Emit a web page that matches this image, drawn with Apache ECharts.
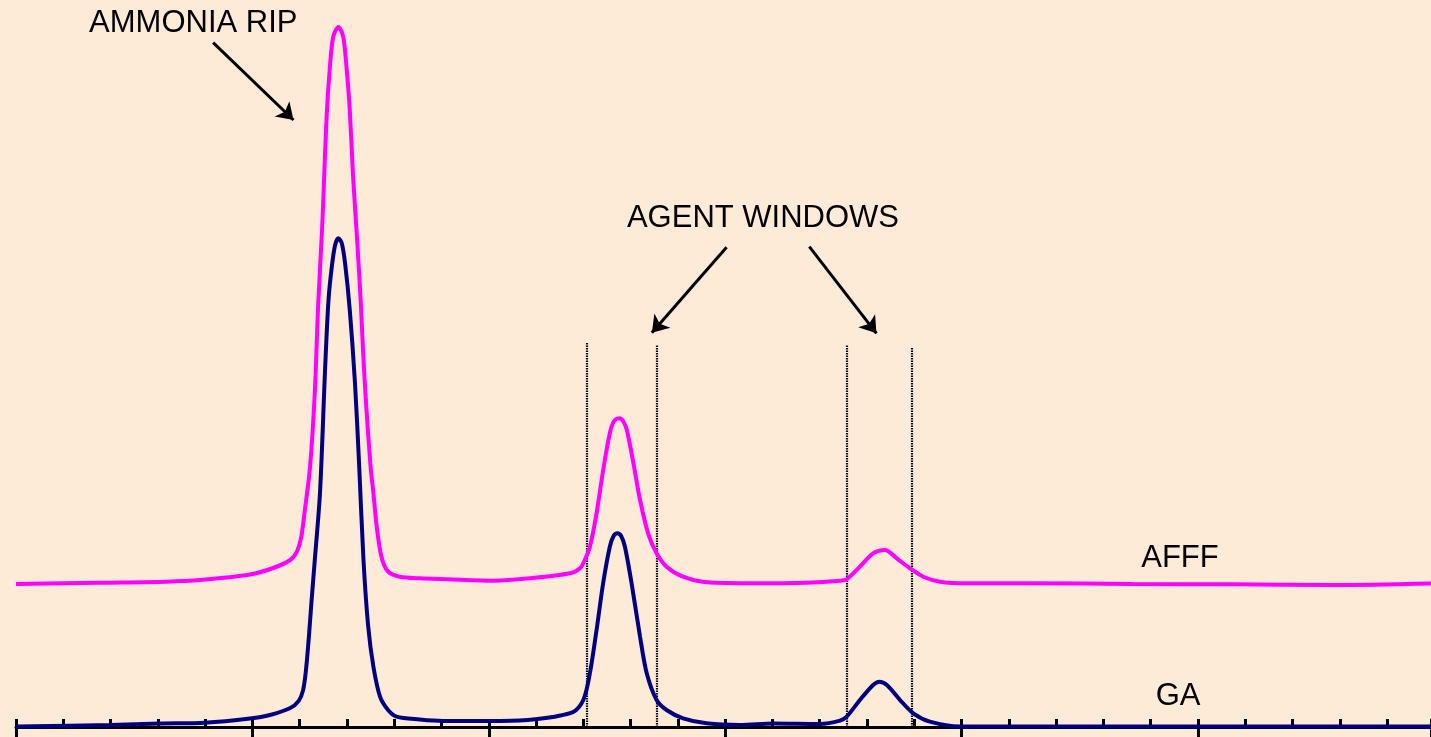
<!DOCTYPE html>
<html>
<head>
<meta charset="utf-8">
<script src="https://cdn.jsdelivr.net/npm/echarts@6/dist/echarts.min.js"></script>
<style>
html,body{margin:0;padding:0;background:#FDEBD8;}
#chart{width:1431px;height:737px;}
</style>
</head>
<body>
<div id="chart"></div>
<script>
// Drift time (axis units, one minor tick = 1) and intensity (0-100 scale)
var gaDrift = [0,1.99,3.05,4.00,4.95,5.37,5.80,5.98,6.07,6.13,6.19,6.25,6.32,6.43,6.54,6.61,6.68,6.75,6.82,6.89,6.96,7.06,7.17,7.26,7.35,7.45,7.56,7.70,7.87,8.05,8.54,9.03,10.24,10.98,11.78,12.00,12.14,12.28,12.42,12.56,12.64,12.72,12.80,12.88,13.02,13.20,13.34,13.55,13.76,14.11,14.61,15.31,16.02,17.00,17.43,17.57,17.85,18.13,18.26,18.42,18.70,18.98,19.33,19.97,22.93,29.93];
var gaIntensity = [0.07,0.28,0.48,0.59,1.17,1.65,2.61,3.60,5.00,7.60,12.00,17.20,22.97,32.19,49.56,58.73,63.32,66.30,67.22,66.57,63.82,57.36,47.32,35.80,22.97,13.80,8.29,4.17,2.34,1.42,1.03,0.83,0.83,1.06,2.06,3.71,7.43,13.34,19.81,24.80,26.27,26.64,26.27,24.80,19.81,12.42,7.43,3.71,2.34,1.20,0.51,0.28,0.48,0.41,0.87,1.42,3.71,5.78,6.23,5.78,3.71,1.88,0.73,0.07,0.07,0.07];

var afffDrift = [0,1.78,3.19,3.89,4.95,5.44,5.80,5.94,6.03,6.11,6.22,6.32,6.39,6.47,6.50,6.57,6.64,6.71,6.82,6.92,6.99,7.06,7.13,7.22,7.29,7.34,7.40,7.50,7.56,7.63,7.73,7.87,8.12,8.54,9.11,10.10,10.87,11.72,11.93,12.03,12.14,12.28,12.42,12.56,12.65,12.76,12.84,12.92,13.06,13.20,13.37,13.55,13.76,14.11,14.61,15.67,16.72,17.43,17.57,17.85,18.13,18.38,18.63,18.91,19.19,19.54,20.11,21.51,23.62,25.74,27.86,29.93];
var afffIntensity = [19.67,19.85,19.99,20.22,20.98,21.87,22.97,24.10,26.00,29.85,35.80,45.94,57.81,67.95,72.49,83.95,90.83,94.95,96.29,94.95,90.83,84.87,75.69,66.57,58.73,51.86,44.98,35.80,32.19,27.55,23.43,21.36,20.67,20.45,20.32,20.12,20.45,21.14,21.83,22.97,24.80,29.39,35.35,40.40,42.09,42.46,42.09,40.85,36.27,31.22,26.64,23.89,22.05,20.67,19.90,19.77,19.85,20.12,20.32,22.05,23.89,24.35,23.20,21.83,20.67,19.99,19.77,19.77,19.67,19.63,19.53,19.74];

// Agent window boundaries (drift) and their top heights
var windowEdges = [12.07, 13.56, 17.57, 18.94];
var windowTops = [52.86, 52.54, 52.54, 52.27];

// Annotation texts and anchor positions (data coords)
var labelTexts = ["AMMONIA RIP", "AGENT WINDOWS", "AFFF", "GA"];
var labelX = [3.75, 15.80, 24.62, 24.58];
var labelY = [96.77, 70.01, 23.18, 4.20];

// Arrows: start and end (data coords)
var arrowFromX = [4.17, 15.03, 16.78];
var arrowFromY = [94.13, 65.98, 66.07];
var arrowToX = [5.87, 13.45, 18.20];
var arrowToY = [83.49, 54.24, 54.15];

var axisMin = 0, axisMax = 29.93;

function zip(a, b){ return a.map(function(v,i){ return [v, b[i]]; }); }

var chart = echarts.init(document.getElementById('chart'), null, {renderer:'canvas'});

var windowLines = windowEdges.map(function(x,i){
  return [{coord:[x,0]},{coord:[x,windowTops[i]]}];
});
var arrowLines = arrowFromX.map(function(x,i){
  return [{coord:[x,arrowFromY[i]]},{coord:[arrowToX[i],arrowToY[i]]}];
});
var labelPoints = labelTexts.map(function(t,i){
  return {coord:[labelX[i],labelY[i]], value:t};
});

chart.setOption({
  backgroundColor:'#FDEBD8',
  animation:false,
  grid:{left:16, right:0, top:0, bottom:10, containLabel:false},
  xAxis:[{
    type:'value', min:axisMin, max:axisMax, interval:1, position:'bottom',
    axisLine:{show:true, lineStyle:{color:'#000', width:3}},
    axisTick:{show:true, inside:true, length:8, lineStyle:{color:'#000', width:3}},
    axisLabel:{show:false}, splitLine:{show:false}
  },{
    type:'value', min:axisMin, max:axisMax, interval:5, position:'bottom', offset:0,
    axisLine:{show:false},
    axisTick:{show:true, inside:false, length:12, lineStyle:{color:'#000', width:3}},
    axisLabel:{show:false}, splitLine:{show:false}
  }],
  yAxis:{type:'value', min:0, max:100, show:false},
  series:[
    {
      name:'AFFF', type:'line', data:zip(afffDrift, afffIntensity),
      smooth:0.3, showSymbol:false, clip:false,
      lineStyle:{color:'#FF00FF', width:4}, z:3, silent:true
    },
    {
      name:'GA', type:'line', data:zip(gaDrift, gaIntensity),
      smooth:0.3, showSymbol:false, clip:false,
      lineStyle:{color:'#000080', width:4}, z:4, silent:true,
      markLine:{
        silent:true, symbol:['none','none'], label:{show:false},
        lineStyle:{color:'#000', width:2.2, type:[1.5,1]},
        data:windowLines, z:2
      }
    },
    {
      name:'annotations', type:'line', data:[], silent:true, clip:false,
      markLine:{
        silent:true, symbol:['none','arrow'], symbolSize:16, label:{show:false},
        lineStyle:{color:'#000', width:3, type:'solid'},
        data:arrowLines
      },
      markPoint:{
        silent:true, symbol:'circle', symbolSize:0,
        label:{show:true, position:'inside', color:'#000', fontSize:31,
          fontFamily:'Liberation Sans, Arial, sans-serif',
          formatter:function(p){ return p.value; }},
        data:labelPoints
      }
    }
  ]
});
</script>
</body>
</html>
